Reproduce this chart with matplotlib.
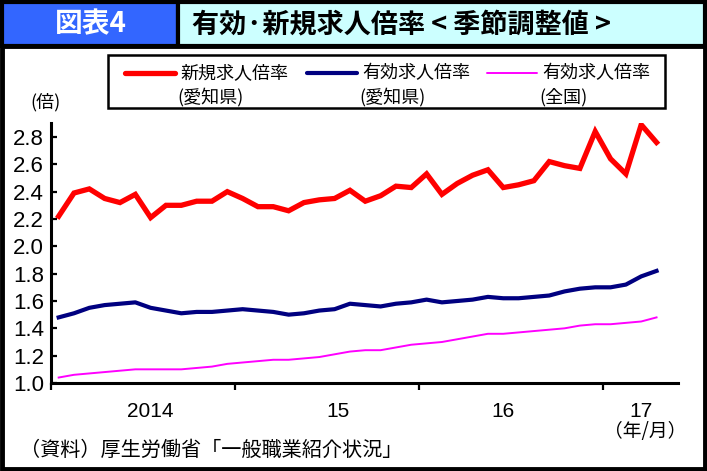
import matplotlib
matplotlib.use("Agg")
import matplotlib.pyplot as plt
from matplotlib.patches import Rectangle
import numpy as np

# ---- data (Jan 2014 - Apr 2017, monthly, seasonally adjusted) ----
new_aichi = [2.22, 2.39, 2.42, 2.35, 2.32, 2.38, 2.21, 2.30, 2.30, 2.33,
             2.33, 2.40, 2.35, 2.29, 2.29, 2.26, 2.32, 2.34, 2.35, 2.41,
             2.33, 2.37, 2.44, 2.43, 2.53, 2.38, 2.46, 2.52, 2.56, 2.43,
             2.45, 2.48, 2.62, 2.59, 2.57, 2.84, 2.64, 2.53, 2.89, 2.76]
eff_aichi = [1.48, 1.51, 1.55, 1.57, 1.58, 1.59, 1.55, 1.53, 1.51, 1.52,
             1.52, 1.53, 1.54, 1.53, 1.52, 1.50, 1.51, 1.53, 1.54, 1.58,
             1.57, 1.56, 1.58, 1.59, 1.61, 1.59, 1.60, 1.61, 1.63, 1.62,
             1.62, 1.63, 1.64, 1.67, 1.69, 1.70, 1.70, 1.72, 1.78, 1.82]
eff_japan = [1.04, 1.06, 1.07, 1.08, 1.09, 1.10, 1.10, 1.10, 1.10, 1.11,
             1.12, 1.14, 1.15, 1.16, 1.17, 1.17, 1.18, 1.19, 1.21, 1.23,
             1.24, 1.24, 1.26, 1.28, 1.29, 1.30, 1.32, 1.34, 1.36, 1.36,
             1.37, 1.38, 1.39, 1.40, 1.42, 1.43, 1.43, 1.44, 1.45, 1.48]
year_labels = ["2014", "15", "16", "17"]
y_ticks = [1.0, 1.2, 1.4, 1.6, 1.8, 2.0, 2.2, 2.4, 2.6, 2.8]
series_names = ["新規求人倍率\n(愛知県)", "有効求人倍率\n(愛知県)", "有効求人倍率\n(全国)"]

JP = ["Noto Sans CJK JP", "DejaVu Sans"]
NUM = ["Liberation Sans", "DejaVu Sans"]

W, H = 707, 471
fig = plt.figure(figsize=(W / 100, H / 100), dpi=100)

# background overlay in pixel coordinates
bg = fig.add_axes([0, 0, 1, 1], zorder=0)
bg.set_xlim(0, W)
bg.set_ylim(H, 0)
bg.axis("off")

bg.add_patch(Rectangle((0, 0), W, H, facecolor="white", edgecolor="none"))
bg.add_patch(Rectangle((2, 2), 176, 44, facecolor="#3366FF", edgecolor="black", lw=3))
bg.add_patch(Rectangle((178, 2), W - 180, 44, facecolor="#CCFFFF", edgecolor="black", lw=3))
bg.add_patch(Rectangle((2, 46), W - 4, H - 48, facecolor="white", edgecolor="black", lw=3.5))

bg.text(91, 24, "図表4", color="white", fontsize=20, fontweight="bold",
        family=JP, ha="center", va="center")
bg.text(192, 24, "有効·新規求人倍率 < 季節調整値 >", color="black", fontsize=19.5,
        fontweight="bold", family=JP, ha="left", va="center")

# legend box
bg.add_patch(Rectangle((108, 55), 557, 53, facecolor="white", edgecolor="black", lw=1.8))
colors = ["#FF0000", "#000080", "#FF00FF"]
widths = [3.8, 3.0, 1.4]
lx = [125, 307, 487]
for x0, c, w, name in zip(lx, colors, widths, series_names):
    bg.plot([x0, x0 + 50], [73, 73], color=c, lw=w, solid_capstyle="round")
    l1, l2 = name.split("\n")
    bg.text(x0 + 55, 73, l1, fontsize=13, family=JP, ha="left", va="center")
    bg.text(x0 + 52, 97, l2, fontsize=13, family=JP, ha="left", va="center")

bg.text(46, 102, "(倍)", fontsize=13, family=JP, ha="center", va="center")
bg.text(645, 432, "（年/月）", fontsize=13.5, family=JP, ha="center", va="center")
bg.text(20, 450, "（資料）厚生労働省「一般職業紹介状況」", fontsize=14.5, family=JP,
        ha="left", va="center")

# main chart axes
left, right = 51 / W, 678 / W
bottom, top = (H - 383) / H, (H - 123.3) / H
ax = fig.add_axes([left, bottom, right - left, top - bottom], zorder=1)
ax.patch.set_visible(False)

x = np.arange(len(new_aichi))
ax.plot(x, new_aichi, color=colors[0], lw=widths[0], solid_joinstyle="miter")
ax.plot(x, eff_aichi, color=colors[1], lw=widths[1])
ax.plot(x, eff_japan, color=colors[2], lw=widths[2])

ax.set_xlim(-0.5, 40.4)
ax.set_ylim(1.0, 2.9)
for s in ["top", "right"]:
    ax.spines[s].set_visible(False)
for s in ["left", "bottom"]:
    ax.spines[s].set_linewidth(2.2)

ax.set_yticks(y_ticks)
ax.set_yticklabels([f"{v:.1f}" for v in y_ticks], family=NUM, fontsize=16)
ax.tick_params(axis="y", direction="in", length=4, width=1.6, pad=5)

ax.set_xticks([-0.5, 11.5, 23.5, 35.5])
ax.set_xticklabels([])
ax.tick_params(axis="x", which="major", direction="out", length=5, width=1.6)
ax.set_xticks([6, 18.2, 29, 38], minor=True)
ax.set_xticklabels(year_labels, minor=True, family=NUM, fontsize=15)
ax.tick_params(axis="x", which="minor", length=0, pad=14)

fig.savefig("out.png", dpi=100)
